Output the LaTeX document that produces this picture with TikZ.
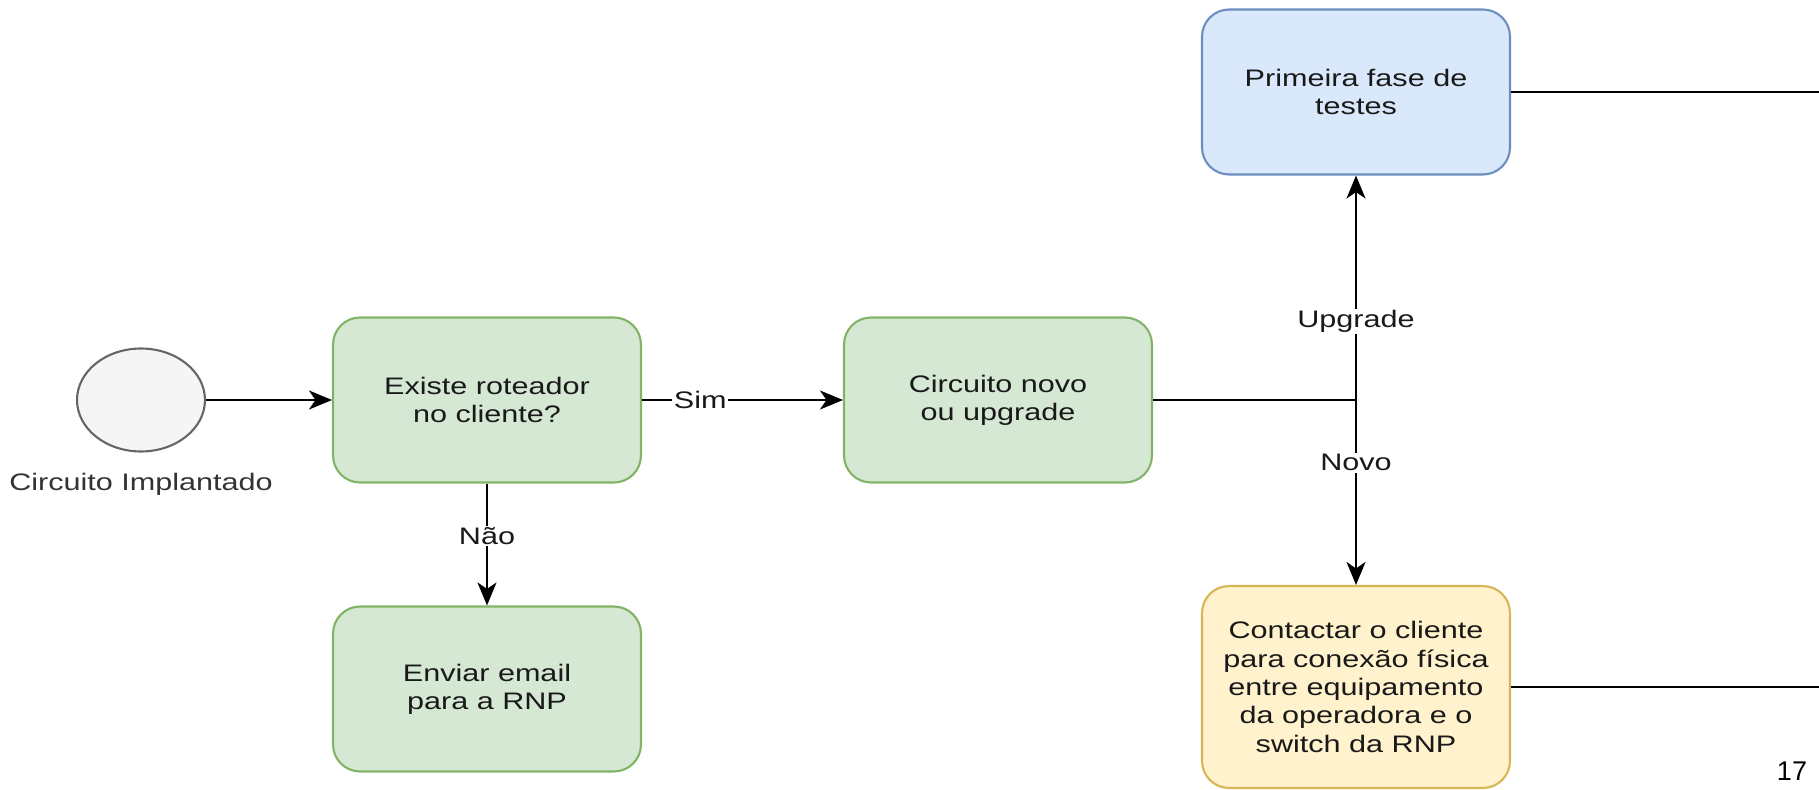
\documentclass[tikz,border=0pt]{standalone}
\usepackage{fontspec}
\setmainfont{Liberation Sans}[FakeStretch=1.28]
\newfontfamily\pagefont{Liberation Sans}
\usetikzlibrary{arrows.meta,shapes.geometric}
\definecolor{flowgreen}{HTML}{D5E8D4}
\definecolor{flowgreenline}{HTML}{82B366}
\definecolor{flowblue}{HTML}{DAE8FC}
\definecolor{flowblueline}{HTML}{6C8EBF}
\definecolor{flowyellow}{HTML}{FFF2CC}
\definecolor{flowyellowline}{HTML}{D6B656}
\definecolor{flowgray}{HTML}{F5F5F5}
\definecolor{flowgrayline}{HTML}{666666}
\definecolor{flowtext}{HTML}{333333}
\tikzset{
  etapa/.style={draw, line width=1.2pt, rounded corners=0.54cm,
    minimum width=6.16cm, minimum height=3.3cm, align=center,
    text=black!90, font=\fontsize{13.6}{16.1}\selectfont},
  seta/.style={line width=1.3pt, -{Stealth[length=0.46cm, width=0.38cm, inset=0.13cm]}},
  linha/.style={line width=1.3pt},
  rotulo/.style={fill=white, inner sep=1pt, text=black!90, font=\fontsize{13.6}{16.1}\selectfont},
}

\begin{document}
\begin{tikzpicture}[x=0.02cm, y=-0.02cm]
                \useasboundingbox (0,0) rectangle (1819,790);
                \node[ellipse, draw=flowgrayline, fill=flowgray, line width=1.2pt,
                  minimum width=2.56cm, minimum height=2.06cm] (inicio) at (141,400) {};
                \node[text=flowtext, font=\fontsize{13.6}{16.1}\selectfont] (iniciorot) at (141,484) {Circuito Implantado};
                \node[etapa, fill=flowgreen, draw=flowgreenline] (roteador) at (487,400) {Existe roteador\\no cliente?};
                \node[etapa, fill=flowgreen, draw=flowgreenline] (email) at (487,689) {Enviar email\\para a RNP};
                \node[etapa, fill=flowgreen, draw=flowgreenline] (tipo) at (998,400) {Circuito novo\\ou upgrade};
                \node[etapa, fill=flowblue, draw=flowblueline] (testes) at (1356,92) {Primeira fase de\\testes};
                \node[etapa, fill=flowyellow, draw=flowyellowline, minimum height=4.04cm] (contato) at (1356,687)
                  {Contactar o cliente\\para conexão física\\entre equipamento\\da operadora e o\\switch da RNP};
                \coordinate (juncao) at (1356,400);
                \coordinate (saida1) at (1819,92);
                \coordinate (saida2) at (1819,687);
                \node[font=\pagefont\fontsize{15.4}{18}\selectfont] (pagina) at (1792,771) {17};
                \draw[seta] (inicio) -- (roteador);
                \draw[seta] (roteador) -- node[rotulo, pos=0.29] {Sim} (tipo);
                \draw[seta] (roteador) -- node[rotulo, pos=0.43] {Não} (email);
                \draw[linha] (tipo) -- (juncao);
                \draw[seta] (juncao) -- node[rotulo, pos=0.35] {Upgrade} (testes);
                \draw[seta] (juncao) -- node[rotulo, pos=0.34] {Novo} (contato);
                \draw[linha] (testes) -- (saida1);
                \draw[linha] (contato) -- (saida2);
            \end{tikzpicture}
\end{document}
